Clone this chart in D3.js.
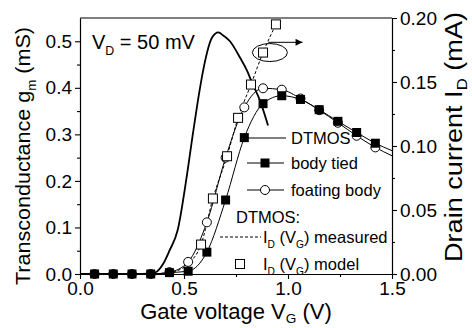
<!DOCTYPE html>
<html>
<head>
<meta charset="utf-8">
<script src="https://cdn.jsdelivr.net/npm/d3@7/dist/d3.min.js"></script>
<style>
  html, body { margin: 0; padding: 0; background: #fff; }
  svg { display: block; }
  text { font-family: "Liberation Sans", Arial, sans-serif; fill: #000; }
</style>
</head>
<body>
<svg id="chart" width="472" height="328"></svg>
<script>
// Gate voltage sweep (V) shared by the marker series
const gateV = [0.07, 0.16, 0.25, 0.34, 0.43, 0.52, 0.61, 0.70, 0.79, 0.88, 0.97, 1.06, 1.15, 1.24, 1.33, 1.42, 1.50];
// Transconductance gm (mS), body tied
const gmBodyTied = [0, 0, 0, 0, 0.003, 0.006, 0.047, 0.159, 0.293, 0.366, 0.383, 0.375, 0.353, 0.328, 0.304, 0.281, 0.265];
// Transconductance gm (mS), floating body
const gmFloating = [0, 0, 0, 0, 0.004, 0.026, 0.111, 0.250, 0.358, 0.399, 0.396, 0.377, 0.352, 0.325, 0.297, 0.272, 0.254];
// DTMOS transconductance gm (mS), continuous curve
const dtmosV  = [0.00, 0.30, 0.36, 0.40, 0.43, 0.47, 0.51, 0.545, 0.577, 0.595, 0.635, 0.665, 0.69, 0.721, 0.769, 0.803, 0.827, 0.865, 0.904];
const dtmosGm = [0.00, 0.00, 0.003, 0.022, 0.05, 0.095, 0.200, 0.308, 0.400, 0.444, 0.508, 0.519, 0.512, 0.500, 0.465, 0.437, 0.411, 0.373, 0.319];
// DTMOS drain current ID (mA): measured (dashed) and model (open squares)
const measV  = [0.40, 0.46, 0.52, 0.582, 0.639, 0.707, 0.760, 0.822, 0.880, 0.942];
const measId = [0.000, 0.002, 0.008, 0.023, 0.059, 0.092, 0.122, 0.148, 0.173, 0.195];
const modelV  = [0.582, 0.639, 0.707, 0.760, 0.822, 0.880, 0.942];
const modelId = [0.023, 0.059, 0.092, 0.122, 0.148, 0.173, 0.195];
// Axis ticks
const xTicks = [0.0, 0.5, 1.0, 1.5];
const xMinor = [0.25, 0.75, 1.25];
const gmTicks = [0.0, 0.1, 0.2, 0.3, 0.4, 0.5];
const gmMinor = [0.05, 0.15, 0.25, 0.35, 0.45];
const idTicks = [0.00, 0.05, 0.10, 0.15, 0.20];
const idMinor = [0.025, 0.075, 0.125, 0.175];

const svg = d3.select("#chart");
const L = 80, R = 392, T = 18, B = 274;

const x = d3.scaleLinear().domain([0, 1.5]).range([L, R]);
const yL = d3.scaleLinear().domain([0, 0.55]).range([B, T]);
const yR = d3.scaleLinear().domain([0, 0.2]).range([B, T]);

const clipId = "plotclip";
svg.append("clipPath").attr("id", clipId)
  .append("rect").attr("x", L).attr("y", T - 10).attr("width", R - L).attr("height", B - T + 10);

function styleAxis(g) {
  g.select(".domain").attr("stroke", "#000").attr("stroke-width", 1.2);
  g.selectAll(".tick line").attr("stroke", "#000").attr("stroke-width", 1.1);
  g.selectAll(".tick text").style("font-size", "19px").attr("fill", "#000");
}

// minor ticks
function minor(axisFn, scale, vals, tr) {
  svg.append("g").attr("transform", tr)
    .call(axisFn(scale).tickValues(vals).tickSize(3).tickFormat(""))
    .call(g => g.select(".domain").remove())
    .call(g => g.selectAll(".tick line").attr("stroke", "#000").attr("stroke-width", 1.1));
}
minor(d3.axisBottom, x, xMinor, `translate(0,${B})`);
minor(d3.axisLeft, yL, gmMinor, `translate(${L},0)`);
minor(d3.axisRight, yR, idMinor, `translate(${R},0)`);

svg.append("g").attr("transform", `translate(0,${B})`)
  .call(d3.axisBottom(x).tickValues(xTicks).tickFormat(d3.format(".1f")).tickSize(5).tickPadding(3).tickSizeOuter(0))
  .call(styleAxis);
svg.append("g").attr("transform", `translate(${L},0)`)
  .call(d3.axisLeft(yL).tickValues(gmTicks).tickFormat(d3.format(".1f")).tickSize(5).tickPadding(3).tickSizeOuter(0))
  .call(styleAxis);
svg.append("g").attr("transform", `translate(${R},0)`)
  .call(d3.axisRight(yR).tickValues(idTicks).tickFormat(d3.format(".2f")).tickSize(5).tickPadding(3).tickSizeOuter(0))
  .call(styleAxis);
// top frame
svg.append("line").attr("x1", L).attr("x2", R).attr("y1", T).attr("y2", T)
  .attr("stroke", "#000").attr("stroke-width", 1.2);

const plot = svg.append("g").attr("clip-path", `url(#${clipId})`);

const gmLine = d3.line().x(d => x(d[0])).y(d => yL(d[1])).curve(d3.curveMonotoneX);
const idLine = d3.line().x(d => x(d[0])).y(d => yR(d[1])).curve(d3.curveMonotoneX);

const bodyPts = gateV.map((v, i) => [v, gmBodyTied[i]]);
const floatPts = gateV.map((v, i) => [v, gmFloating[i]]);
const dtmosPts = dtmosV.map((v, i) => [v, dtmosGm[i]]);
const measPts = measV.map((v, i) => [v, measId[i]]);
const modelPts = modelV.map((v, i) => [v, modelId[i]]);

plot.append("path").attr("d", gmLine(floatPts)).attr("fill", "none").attr("stroke", "#000").attr("stroke-width", 1);
plot.append("path").attr("d", gmLine(bodyPts)).attr("fill", "none").attr("stroke", "#000").attr("stroke-width", 1);
plot.append("path").attr("d", idLine(measPts)).attr("fill", "none").attr("stroke", "#000").attr("stroke-width", 1).attr("stroke-dasharray", "3,2");
plot.append("path").attr("d", gmLine(dtmosPts)).attr("fill", "none").attr("stroke", "#000").attr("stroke-width", 1.8);

const markV = v => v < 1.45;
// floating body circles
svg.append("g").selectAll("circle").data(floatPts.filter(d => markV(d[0]))).join("circle")
  .attr("cx", d => x(d[0])).attr("cy", d => yL(d[1])).attr("r", 4.5)
  .attr("fill", "#fff").attr("stroke", "#000").attr("stroke-width", 1);
// body tied filled squares
svg.append("g").selectAll("rect").data(bodyPts.filter(d => markV(d[0]))).join("rect")
  .attr("x", d => x(d[0]) - 4.5).attr("y", d => yL(d[1]) - 4.5).attr("width", 9).attr("height", 9)
  .attr("fill", "#000");
// model open squares
svg.append("g").selectAll("rect").data(modelPts).join("rect")
  .attr("x", d => x(d[0]) - 4.5).attr("y", d => yR(d[1]) - 4.5).attr("width", 9).attr("height", 9)
  .attr("fill", "#fff").attr("stroke", "#000").attr("stroke-width", 1);

// ellipse and arrow marking the right-axis curve
svg.append("defs").append("marker").attr("id", "arrowhead")
  .attr("viewBox", "0 0 10 10").attr("refX", 10).attr("refY", 5)
  .attr("markerWidth", 9).attr("markerHeight", 7).attr("markerUnits", "userSpaceOnUse").attr("orient", "auto")
  .append("path").attr("d", "M0,0 L10,5 L0,10 Z").attr("fill", "#000");
svg.append("ellipse").attr("cx", x(0.913)).attr("cy", yR(0.173)).attr("rx", 17.5).attr("ry", 9)
  .attr("fill", "none").attr("stroke", "#000").attr("stroke-width", 1);
svg.append("line").attr("x1", x(0.905)).attr("y1", yR(0.181)).attr("x2", x(1.07)).attr("y2", yR(0.181))
  .attr("stroke", "#000").attr("stroke-width", 1).attr("marker-end", "url(#arrowhead)");

// helper for text with subscripts: parts = [[text, isSub], ...]
function richText(g, parts, fs, drop) {
  const d = drop === undefined ? fs * 0.28 : drop;
  let prevSub = false;
  parts.forEach(([t, sub]) => {
    const ts = g.append("tspan").text(t);
    if (sub) ts.attr("font-size", (fs * 0.62) + "px").attr("dy", d);
    else if (prevSub) ts.attr("dy", -d);
    prevSub = sub;
  });
  return g;
}

// V_D annotation
richText(svg.append("text").attr("x", 92).attr("y", 49).style("font-size", "20px"),
  [["V", false], ["D", true], [" = 50 mV", false]], 20);

// legend
const lf = 16.5;
svg.append("line").attr("x1", 245).attr("x2", 286).attr("y1", 138).attr("y2", 138).attr("stroke", "#000").attr("stroke-width", 1.2);
svg.append("text").attr("x", 291).attr("y", 144).style("font-size", lf + "px").text("DTMOS");

svg.append("line").attr("x1", 247).attr("x2", 284).attr("y1", 163).attr("y2", 163).attr("stroke", "#000").attr("stroke-width", 1);
svg.append("rect").attr("x", 265 - 4.5).attr("y", 163 - 4.5).attr("width", 9).attr("height", 9).attr("fill", "#000");
svg.append("text").attr("x", 291).attr("y", 169).style("font-size", lf + "px").text("body tied");

svg.append("line").attr("x1", 247).attr("x2", 284).attr("y1", 190).attr("y2", 190).attr("stroke", "#000").attr("stroke-width", 1);
svg.append("circle").attr("cx", 265).attr("cy", 190).attr("r", 4.5).attr("fill", "#fff").attr("stroke", "#000");
svg.append("text").attr("x", 291).attr("y", 196).style("font-size", lf + "px").text("foating body");

svg.append("text").attr("x", 236).attr("y", 223).style("font-size", lf + "px").text("DTMOS:");

svg.append("line").attr("x1", 220).attr("x2", 261).attr("y1", 237).attr("y2", 237).attr("stroke", "#000").attr("stroke-width", 1).attr("stroke-dasharray", "3,2");
richText(svg.append("text").attr("x", 263).attr("y", 243).style("font-size", lf + "px"),
  [["I", false], ["D", true], [" (V", false], ["G", true], [") measured", false]], lf);

svg.append("rect").attr("x", 240 - 4.5).attr("y", 264 - 4.5).attr("width", 9).attr("height", 9).attr("fill", "#fff").attr("stroke", "#000");
richText(svg.append("text").attr("x", 263).attr("y", 270).style("font-size", lf + "px"),
  [["I", false], ["D", true], [" (V", false], ["G", true], [") model", false]], lf);

// axis titles
const tf = 22;
richText(svg.append("text").attr("x", (L + R) / 2).attr("y", 319).attr("text-anchor", "middle").style("font-size", tf + "px"),
  [["Gate voltage V", false], ["G", true], [" (V)", false]], tf, 4);
richText(svg.append("text").attr("transform", "translate(30,285) rotate(-90)").style("font-size", "21px")
    .attr("textLength", 258).attr("lengthAdjust", "spacingAndGlyphs"),
  [["Transconductance g", false], ["m", true], [" (mS)", false]], 21);
richText(svg.append("text").attr("transform", "translate(462,262) rotate(-90)").style("font-size", "23.5px")
    .attr("textLength", 250).attr("lengthAdjust", "spacingAndGlyphs"),
  [["Drain current I", false], ["D", true], [" (mA)", false]], 23.5, 4.5);
</script>
</body>
</html>
